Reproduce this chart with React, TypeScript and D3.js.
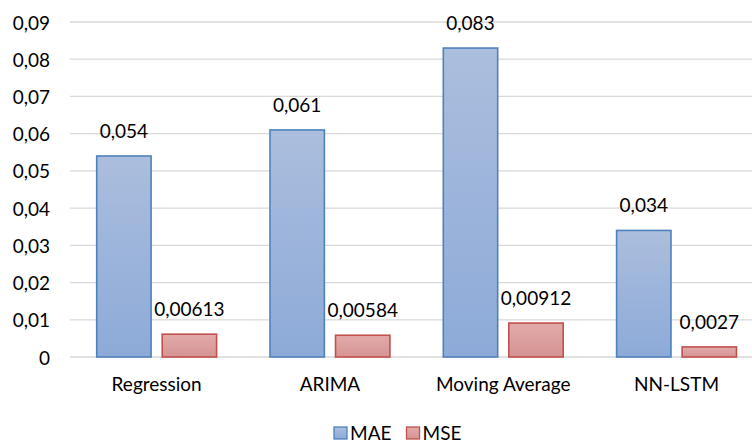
import React from 'react';
import * as d3 from 'd3';

const categories = ['Regression', 'ARIMA', 'Moving Average', 'NN-LSTM'];
const seriesNames = ['MAE', 'MSE'];
const maeValues = [0.054, 0.061, 0.083, 0.034];
const mseValues = [0.00613, 0.00584, 0.00912, 0.0027];
const yTicks = [0, 0.01, 0.02, 0.03, 0.04, 0.05, 0.06, 0.07, 0.08, 0.09];

const width = 752;
const height = 443;
const font = 'Lato, "Open Sans", sans-serif';
const fontSize = 19;

const colors: Record<string, { top: string; bottom: string; stroke: string }> = {
  MAE: { top: '#abbedd', bottom: '#8daad8', stroke: '#4f81bd' },
  MSE: { top: '#e2abab', bottom: '#d69393', stroke: '#c0504d' },
};

const fmt = (v: number) => String(v).replace('.', ',');
const fmtTick = (v: number) => (v === 0 ? '0' : v.toFixed(2).replace('.', ','));

const App: React.FC = () => {
  const x0 = d3.scaleBand<string>().domain(categories).range([70, 763.2]).padding(0);
  const x1 = d3
    .scaleBand<string>()
    .domain(seriesNames)
    .range([26.7, x0.bandwidth() - 26.7])
    .paddingInner(0.17);
  const y = d3.scaleLinear().domain([0, 0.09]).range([357, 22]);

  const rows = categories.map((c, i) => ({ cat: c, values: [maeValues[i], mseValues[i]] }));

  return (
    <svg
      width={width}
      height={height}
      style={{ position: 'absolute', left: 0, top: 0, background: '#fff' }}
      fontFamily={font}
    >
      <defs>
        {seriesNames.map(s => (
          <linearGradient key={s} id={`grad-${s}`} x1="0" y1="0" x2="0" y2="1">
            <stop offset="0%" stopColor={colors[s].top} />
            <stop offset="100%" stopColor={colors[s].bottom} />
          </linearGradient>
        ))}
      </defs>

      {/* gridlines */}
      {yTicks.map(t => (
        <line
          key={t}
          x1={70}
          x2={width}
          y1={y(t)}
          y2={y(t)}
          stroke="#d9d9d9"
          strokeWidth={1.3}
        />
      ))}

      {/* y tick labels */}
      {yTicks.map(t => (
        <text
          key={'l' + t}
          x={50}
          y={y(t)}
          textAnchor="end"
          dominantBaseline="central"
          fontSize={fontSize}
          fill="#000"
        >
          {fmtTick(t)}
        </text>
      ))}

      {/* bars */}
      {rows.map(r => (
        <g key={r.cat} transform={`translate(${x0(r.cat)},0)`}>
          {r.values.map((v, j) => {
            const s = seriesNames[j];
            const bx = x1(s)!;
            return (
              <g key={s}>
                <rect
                  x={bx}
                  y={y(v)}
                  width={x1.bandwidth()}
                  height={y(0) - y(v)}
                  fill={`url(#grad-${s})`}
                  stroke={colors[s].stroke}
                  strokeWidth={1.6}
                />
                <text
                  x={bx + x1.bandwidth() / 2}
                  y={y(v) - 18}
                  textAnchor="middle"
                  fontSize={fontSize}
                  fill="#000"
                >
                  {fmt(v)}
                </text>
              </g>
            );
          })}
          <text
            x={x0.bandwidth() / 2}
            y={391}
            textAnchor="middle"
            fontSize={fontSize}
            fill="#000"
          >
            {r.cat}
          </text>
        </g>
      ))}

      {/* legend */}
      {seriesNames.map((s, i) => {
        const lx = i === 0 ? 334 : 406.5;
        return (
          <g key={'leg' + s}>
            <rect
              x={lx}
              y={427}
              width={13}
              height={12}
              fill={`url(#grad-${s})`}
              stroke={colors[s].stroke}
              strokeWidth={1.3}
            />
            <text x={lx + 16} y={440} fontSize={fontSize} fill="#000">
              {s}
            </text>
          </g>
        );
      })}
    </svg>
  );
};

export default App;
